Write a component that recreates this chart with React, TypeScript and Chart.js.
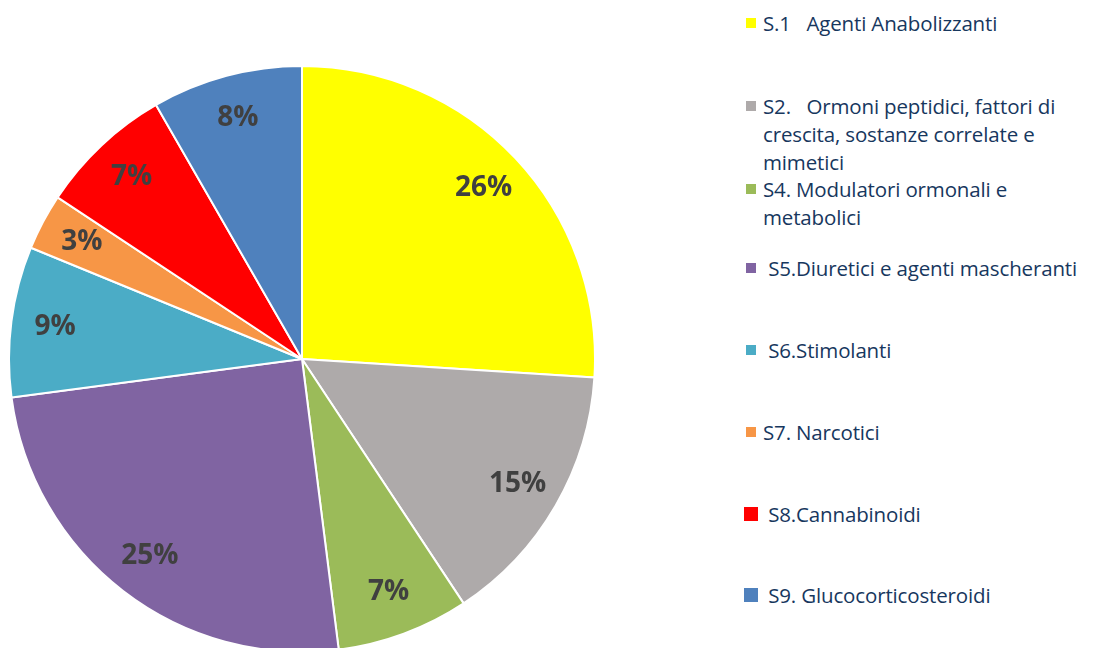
import React, { useEffect, useRef } from "react";
import { Chart, registerables } from "chart.js";

Chart.register(...registerables);

const categories = [
  "S.1   Agenti Anabolizzanti",
  "S2.   Ormoni peptidici, fattori di\ncrescita, sostanze correlate e\nmimetici",
  "S4. Modulatori ormonali e\nmetabolici",
  " S5.Diuretici e agenti mascheranti",
  " S6.Stimolanti",
  "S7. Narcotici",
  " S8.Cannabinoidi",
  " S9. Glucocorticosteroidi",
];
const values = [26.0, 14.7, 7.3, 24.9, 8.3, 3.1, 7.4, 8.3];
const percentLabels = ["26%", "15%", "7%", "25%", "9%", "3%", "7%", "8%"];
const colors = ["#FFFF00", "#AEAAAA", "#9BBB59", "#8064A2", "#4BACC6", "#F79646", "#FF0000", "#4F81BD"];

// legend layout (page-relative first-line centre, square size)
const legendLayout = [
  { cy: 23, sq: 10, sqx: 746, tx: 763 },
  { cy: 106, sq: 10, sqx: 746, tx: 763 },
  { cy: 189, sq: 10, sqx: 746, tx: 763 },
  { cy: 268, sq: 10, sqx: 746, tx: 763 },
  { cy: 350, sq: 10, sqx: 746, tx: 763 },
  { cy: 432, sq: 10, sqx: 746, tx: 763 },
  { cy: 514, sq: 14, sqx: 744, tx: 763 },
  { cy: 595, sq: 14, sqx: 744, tx: 763 },
];

const labelPlugin = {
  id: "sliceLabels",
  afterDatasetsDraw(chart: any) {
    const ctx = chart.ctx;
    const meta = chart.getDatasetMeta(0);
    ctx.save();
    ctx.font = "bold 28px 'Open Sans'";
    ctx.fillStyle = "#404040";
    ctx.textAlign = "center";
    ctx.textBaseline = "middle";
    meta.data.forEach((arc: any, i: number) => {
      const p = arc.getProps(["x", "y", "startAngle", "endAngle", "outerRadius"], true);
      const mid = (p.startAngle + p.endAngle) / 2;
      const r = p.outerRadius * 0.85;
      ctx.fillText(percentLabels[i], p.x + Math.cos(mid) * r, p.y + Math.sin(mid) * r);
    });
    ctx.restore();
  },
};

export default function App() {
  const ref = useRef<HTMLCanvasElement | null>(null);
  useEffect(() => {
    document.documentElement.style.overflow = "hidden";
    if (!ref.current) return;
    const chart = new Chart(ref.current, {
      type: "pie",
      data: {
        labels: categories,
        datasets: [
          {
            data: values,
            backgroundColor: colors,
            borderColor: "#FFFFFF",
            borderWidth: 2,
          },
        ],
      },
      options: {
        responsive: false,
        animation: false,
        plugins: {
          legend: { display: false },
          tooltip: { enabled: false },
        },
      },
      plugins: [labelPlugin],
    });
    return () => chart.destroy();
  }, []);

  return (
    <div style={{ position: "relative", width: 1087, height: 640, overflow: "hidden" }}>
      <canvas ref={ref} width={588} height={702} style={{ position: "absolute", left: 0, top: 0 }} />
      {categories.map((c, i) => {
        const L = legendLayout[i];
        return (
          <React.Fragment key={i}>
            <div
              style={{
                position: "absolute",
                left: L.sqx - 8,
                top: L.cy - 8 - L.sq / 2,
                width: L.sq,
                height: L.sq,
                background: colors[i],
              }}
            />
            <div
              style={{
                position: "absolute",
                left: L.tx - 8,
                top: L.cy - 8 - 14,
                lineHeight: "28px",
                fontFamily: "'Open Sans'",
                fontSize: 20.5,
                letterSpacing: "-0.15px",
                color: "#17375E",
                whiteSpace: "pre",
              }}
            >
              {c}
            </div>
          </React.Fragment>
        );
      })}
    </div>
  );
}
